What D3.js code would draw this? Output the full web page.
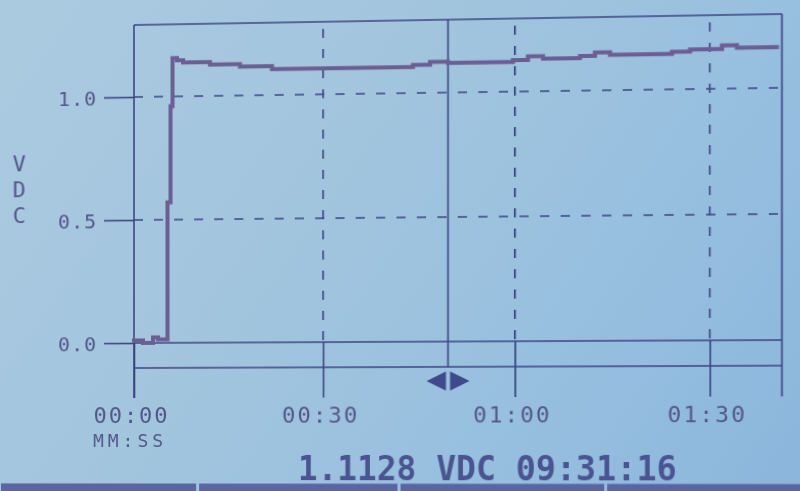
<!DOCTYPE html>
<html>
<head>
<meta charset="utf-8">
<script src="https://cdn.jsdelivr.net/npm/d3@7"></script>
<style>
  html, body { margin: 0; padding: 0; width: 800px; height: 491px; overflow: hidden; }
  body { background: linear-gradient(125deg, #aacadf 0%, #a2c5de 40%, #97bfdf 70%, #8bb6dc 100%); }
  #chart { position: absolute; left: 0; top: 0;
    transform-origin: 134px 461px;
    transform: perspective(1000px) rotateY(-2.235deg); }
  text { font-family: "DejaVu Sans Mono", monospace; }
</style>
</head>
<body>
<svg id="chart" width="800" height="491"></svg>
<script>
// ---- data ----
const timesSec = [0, 1.44, 3.04, 3.83, 5.35, 5.83, 6.15, 6.87, 7.82, 12.11, 16.87, 21.94,
                  44.11, 46.77, 49.58, 59.69, 62.02, 64.34, 70.06, 72.38, 74.69,
                  84.22, 86.98, 91.87, 94.15, 100.25];
const voltsVDC = [0.010, 0.000, 0.022, 0.014, 0.57, 0.96, 1.155, 1.146, 1.137, 1.127, 1.117, 1.105,
                  1.113, 1.124, 1.119, 1.126, 1.140, 1.130, 1.138, 1.151, 1.141,
                  1.149, 1.158, 1.172, 1.162, 1.162];
const yTickValues = [0, 0.5, 1.0];
const yTickLabels = ["0.0", "0.5", "1.0"];
const xTickValues = [0, 30, 60, 90];
const xTickLabels = ["00:00", "00:30", "01:00", "01:30"];
const yAxisTitle = ["V", "D", "C"];
const xUnitLabel = "MM:SS";
const cursorTime = 49.58;
const readoutText = "1.1128 VDC 09:31:16";

// ---- layout ----
const lineColor = "#3d4684";
const textColor = "#52578a";
const traceColor = "#6c5e93";
const plotLeft = 134, plotTop = 25, plotBottom = 368, tickBottom = 398;

const x = d3.scaleLinear().domain([0, 101]).range([plotLeft, plotLeft + 101 * 6.2617]);
const y = d3.scaleLinear().domain([-0.1016, 1.2927]).range([plotBottom, plotTop]);
const plotRight = x.range()[1];

const svg = d3.select("#chart");

// tiny marks at the very top
svg.selectAll("line.topmark").data([435, 485]).enter().append("line")
  .attr("x1", d => d).attr("x2", d => d).attr("y1", 0).attr("y2", 3)
  .attr("stroke", lineColor).attr("stroke-width", 1.5);

// dashed horizontal gridlines
svg.selectAll("line.hgrid").data(yTickValues.filter(v => v !== 0)).enter().append("line")
  .attr("x1", plotLeft).attr("x2", plotRight)
  .attr("y1", d => y(d)).attr("y2", d => y(d))
  .attr("stroke", lineColor).attr("stroke-width", 1.6).attr("stroke-dasharray", "9,11");
// solid zero line
svg.append("line").attr("x1", plotLeft).attr("x2", plotRight).attr("y1", y(0)).attr("y2", y(0))
  .attr("stroke", lineColor).attr("stroke-width", 1.6);

// dashed vertical gridlines above zero
svg.selectAll("line.vgrid").data(xTickValues.filter(v => v !== 0)).enter().append("line")
  .attr("x1", d => x(d)).attr("x2", d => x(d))
  .attr("y1", plotTop + 7).attr("y2", y(0))
  .attr("stroke", lineColor).attr("stroke-width", 1.6).attr("stroke-dasharray", "9,11");

// frame
const frame = svg.append("g").attr("stroke", lineColor).attr("stroke-width", 1.6);
frame.append("line").attr("x1", plotLeft).attr("x2", plotRight).attr("y1", plotTop).attr("y2", plotTop);
frame.append("line").attr("x1", plotLeft).attr("x2", plotLeft).attr("y1", plotTop).attr("y2", tickBottom);
frame.append("line").attr("x1", plotRight).attr("x2", plotRight).attr("y1", plotTop).attr("y2", tickBottom);
frame.append("line").attr("x1", plotLeft).attr("x2", plotRight).attr("y1", plotBottom).attr("y2", plotBottom);

// y axis
const yAxis = d3.axisLeft(y).tickValues(yTickValues).tickSize(30).tickPadding(7)
  .tickFormat((d, i) => yTickLabels[i]);
const gy = svg.append("g").attr("transform", `translate(${plotLeft},0)`).call(yAxis);
gy.select(".domain").remove();
gy.selectAll(".tick line").attr("stroke", lineColor).attr("stroke-width", 1.6);
gy.selectAll(".tick text").attr("fill", textColor).attr("font-size", 20)
  .attr("letter-spacing", 1).attr("dy", "0.37em")
  .style("font-family", "'DejaVu Sans Mono', monospace");

// x axis (solid tick part from zero line downward)
const xAxis = d3.axisBottom(x).tickValues(xTickValues).tickSize(tickBottom - y(0)).tickPadding(9.5)
  .tickFormat((d, i) => xTickLabels[i]);
const gx = svg.append("g").attr("transform", `translate(0,${y(0)})`).call(xAxis);
gx.select(".domain").remove();
gx.selectAll(".tick line").attr("stroke", lineColor).attr("stroke-width", 1.6);
gx.selectAll(".tick text").attr("fill", textColor).attr("font-size", 22)
  .attr("letter-spacing", 2).attr("dx", -3)
  .style("font-family", "'DejaVu Sans Mono', monospace");

// unit label
svg.append("text").attr("x", x(0) - 4).attr("y", 447).attr("text-anchor", "middle")
  .attr("font-size", 18).attr("letter-spacing", 4).attr("fill", textColor).text(xUnitLabel);

// vertical axis title
svg.selectAll("text.ytitle").data(yAxisTitle).enter().append("text")
  .attr("x", 18.5).attr("y", (d, i) => 170 + i * 26).attr("text-anchor", "middle")
  .attr("font-size", 22).attr("fill", textColor).text(d => d);

// cursor
const cursorX = x(cursorTime);
svg.append("line").attr("x1", cursorX).attr("x2", cursorX).attr("y1", plotTop).attr("y2", plotBottom)
  .attr("stroke", lineColor).attr("stroke-width", 1.6);
svg.append("path").attr("d", `M${cursorX-21},382 L${cursorX-2},372.5 L${cursorX-2},391.5 Z`).attr("fill", "#3f4a8c");
svg.append("path").attr("d", `M${cursorX+21},382 L${cursorX+2},372.5 L${cursorX+2},391.5 Z`).attr("fill", "#3f4a8c");

// trace
const pts = timesSec.map((t, i) => [t, voltsVDC[i]]);
const traceLine = d3.line().x(d => x(d[0])).y(d => y(d[1])).curve(d3.curveStepAfter);
svg.append("path").datum(pts).attr("d", traceLine)
  .attr("fill", "none").attr("stroke", traceColor).attr("stroke-width", 4)
  .attr("stroke-linejoin", "miter").attr("stroke-linecap", "square");

// readout
svg.append("text").attr("x", 297).attr("y", 480).attr("font-size", 33).attr("font-weight", "bold")
  .attr("textLength", 369).attr("lengthAdjust", "spacingAndGlyphs")
  .attr("fill", "#4a5490").text(readoutText);

// bottom softkey bar
const barSegs = [[-10, 196], [199, 395], [398, 596], [599, 830]];
svg.selectAll("rect.bar").data(barSegs).enter().append("rect")
  .attr("x", d => d[0]).attr("width", d => d[1] - d[0])
  .attr("y", 483.5).attr("height", 12).attr("fill", "#5a65a2");
</script>
</body>
</html>
